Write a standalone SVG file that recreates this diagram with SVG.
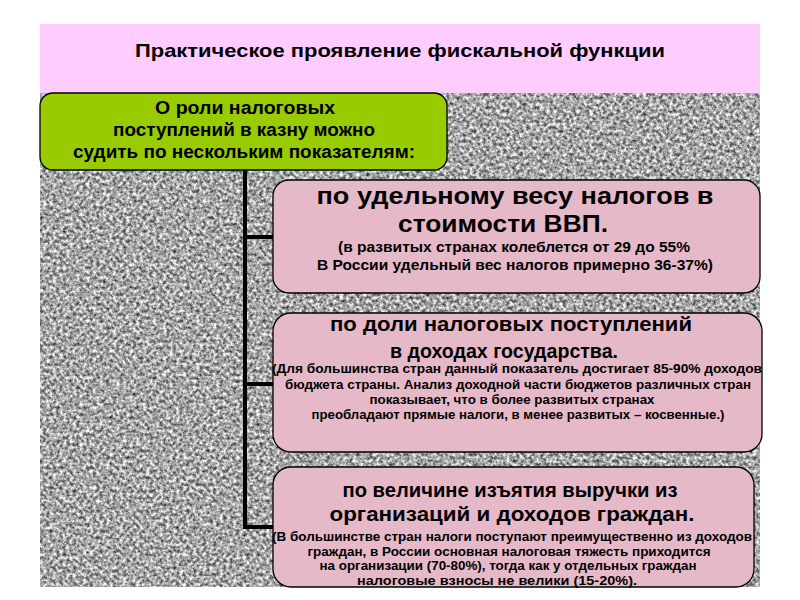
<svg xmlns="http://www.w3.org/2000/svg" width="800" height="600" viewBox="0 0 800 600">
<defs>
<filter id="granite" x="0" y="0" width="100%" height="100%" color-interpolation-filters="sRGB">
<feTurbulence type="fractalNoise" baseFrequency="0.3" numOctaves="3" seed="7" result="n"/>
<feColorMatrix type="matrix" values="1.3 0 0 0 0.0  1.3 0 0 0 0.0  1.3 0 0 0 0.0  0 0 0 0 1"/>
</filter>
<style>
.t{font-family:"Liberation Sans",Arial,sans-serif;fill:#000;text-anchor:middle;font-weight:bold}
.box{fill:#E6B9C8;stroke:#000;stroke-width:1.3}
.conn{stroke:#000;stroke-width:4;fill:none}
</style>
</defs>
<rect x="0" y="0" width="800" height="600" fill="#fff"/>
<rect x="40" y="24" width="720" height="69" fill="#FFCCFF"/>
<rect x="40" y="93" width="720" height="494" fill="#A9A9A9" filter="url(#granite)"/>
<text class="t" x="400" y="57" font-size="19" textLength="530" lengthAdjust="spacingAndGlyphs">Практическое  проявление  фискальной  функции</text>

<g id="connectors">
<path class="conn" d="M245 168 V527 H275"/>
<path class="conn" d="M245 237 H275"/>
<path class="conn" d="M245 384 H275"/>
</g>

<g id="root">
<rect x="40" y="93" width="407" height="77" rx="13" fill="#99CC00" stroke="#000" stroke-width="1.3"/>
<text class="t" x="245" y="114" font-size="18" textLength="180" lengthAdjust="spacingAndGlyphs">О роли налоговых</text>
<text class="t" x="244" y="136" font-size="18" textLength="262" lengthAdjust="spacingAndGlyphs">поступлений в казну можно</text>
<text class="t" x="244" y="158" font-size="18" textLength="342" lengthAdjust="spacingAndGlyphs">судить по нескольким показателям:</text>
</g>

<g id="box1">
<rect class="box" x="273" y="180" width="487" height="113" rx="16"/>
<text class="t" x="515" y="204" font-size="24" textLength="397" lengthAdjust="spacingAndGlyphs">по удельному весу налогов в</text>
<text class="t" x="503" y="232" font-size="24" textLength="210" lengthAdjust="spacingAndGlyphs">стоимости ВВП.</text>
<text class="t" x="514" y="252" font-size="14" textLength="352" lengthAdjust="spacingAndGlyphs">(в развитых странах колеблется от 29 до 55%</text>
<text class="t" x="515" y="270" font-size="14" textLength="396" lengthAdjust="spacingAndGlyphs">В России удельный вес налогов примерно 36-37%)</text>
</g>

<g id="box2">
<rect class="box" x="273" y="313" width="489" height="139" rx="18"/>
<text class="t" x="511" y="331" font-size="20" textLength="362" lengthAdjust="spacingAndGlyphs">по доли налоговых поступлений</text>
<text class="t" x="504" y="358" font-size="20" textLength="228" lengthAdjust="spacingAndGlyphs">в доходах государства.</text>
<text class="t" x="517" y="373" font-size="12" textLength="490" lengthAdjust="spacingAndGlyphs">(Для большинства  стран данный показатель достигает 85-90%  доходов</text>
<text class="t" x="518" y="389" font-size="12" textLength="466" lengthAdjust="spacingAndGlyphs">бюджета страны. Анализ доходной части бюджетов различных стран</text>
<text class="t" x="512" y="404" font-size="12" textLength="285" lengthAdjust="spacingAndGlyphs">показывает, что в более развитых странах</text>
<text class="t" x="518" y="419" font-size="12" textLength="413" lengthAdjust="spacingAndGlyphs">преобладают прямые налоги, в менее развитых – косвенные.)</text>
</g>

<g id="box3">
<rect class="box" x="273" y="467" width="481" height="120" rx="18"/>
<text class="t" x="510" y="497" font-size="20" textLength="335" lengthAdjust="spacingAndGlyphs">по величине изъятия выручки из</text>
<text class="t" x="512" y="521" font-size="20" textLength="365" lengthAdjust="spacingAndGlyphs">организаций и доходов граждан.</text>
<text class="t" x="512" y="541" font-size="12" textLength="480" lengthAdjust="spacingAndGlyphs">(В большинстве  стран налоги поступают преимущественно из доходов</text>
<text class="t" x="509" y="556" font-size="12" textLength="403" lengthAdjust="spacingAndGlyphs">граждан, в России основная налоговая тяжесть приходится</text>
<text class="t" x="508" y="570" font-size="12" textLength="377" lengthAdjust="spacingAndGlyphs">на организации (70-80%),  тогда как у отдельных граждан</text>
<text class="t" x="497" y="585" font-size="12" textLength="280" lengthAdjust="spacingAndGlyphs">налоговые  взносы не велики (15-20%).</text>
</g>
</svg>
